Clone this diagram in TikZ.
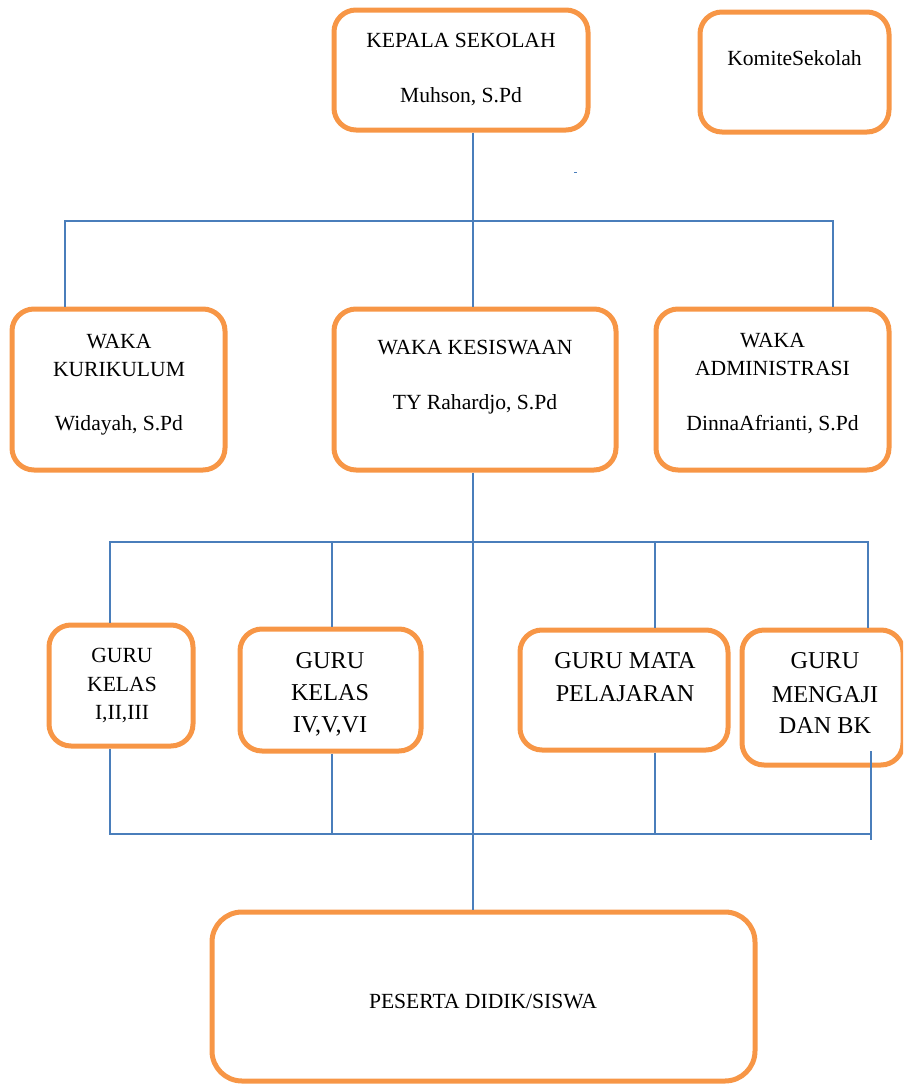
\documentclass[tikz,border=0pt]{standalone}
\usepackage{fontspec}
\setmainfont{Liberation Serif}
\definecolor{boxorange}{HTML}{F79646}
\definecolor{lineblue}{HTML}{4A7EBB}
\begin{document}
\begin{tikzpicture}[x=1pt,y=-1pt,
 box/.style={draw=boxorange, line width=5pt, rounded corners=22pt, rectangle, inner sep=0pt},
 conn/.style={draw=lineblue, line width=1.6pt},
 txt/.style={anchor=base, inner sep=0pt, font=\fontsize{21.6}{21.6}\selectfont},
 bigtxt/.style={anchor=base, inner sep=0pt, font=\fontsize{24.2}{24.2}\selectfont}]
\useasboundingbox (0,0) rectangle (903,1085);
\begin{scope}
\clip (0,0) rectangle (903,1085);
% boxes
\node[box, minimum width=254pt, minimum height=120pt] (kepala) at (461,70) {};
\node[box, minimum width=189pt, minimum height=120pt] (komite) at (794.5,72) {};
\node[box, minimum width=213pt, minimum height=161pt] (kuri) at (118.5,389.5) {};
\node[box, minimum width=282pt, minimum height=161pt] (kesis) at (475,389.5) {};
\node[box, minimum width=233pt, minimum height=161pt] (admin) at (772.5,389.5) {};
\node[box, minimum width=144pt, minimum height=121pt] (g1) at (121,685.5) {};
\node[box, minimum width=181pt, minimum height=122pt] (g2) at (330.5,690) {};
\node[box, minimum width=208pt, minimum height=120pt] (g3) at (624,690) {};
\node[box, minimum width=161pt, minimum height=135pt] (g4) at (822.5,697.5) {};
\node[box, minimum width=543pt, minimum height=169pt, rounded corners=30pt] (siswa) at (483.5,996.5) {};
\end{scope}
% texts
\node[txt] (kepT1) at (461,47) {KEPALA SEKOLAH};
\node[txt] (kepT2) at (461,102) {Muhson, S.Pd};
\node[txt] (komT) at (794.5,65) {KomiteSekolah};
\node[txt] (kurT1) at (119,348) {WAKA};
\node[txt] (kurT2) at (119,376) {KURIKULUM};
\node[txt] (kurT3) at (119,430) {Widayah, S.Pd};
\node[txt] (kesT1) at (475,354) {WAKA KESISWAAN};
\node[txt] (kesT2) at (475,409) {TY Rahardjo, S.Pd};
\node[txt] (admT1) at (772.5,347) {WAKA};
\node[txt] (admT2) at (772.5,375) {ADMINISTRASI};
\node[txt] (admT3) at (772.5,430) {DinnaAfrianti, S.Pd};
\node[txt] (g1T1) at (122,662) {GURU};
\node[txt] (g1T2) at (122,691) {KELAS};
\node[txt] (g1T3) at (122,719) {I,II,III};
\node[bigtxt] (g2T1) at (330,668) {GURU};
\node[bigtxt] (g2T2) at (330,700) {KELAS};
\node[bigtxt] (g2T3) at (330,732) {IV,V,VI};
\node[bigtxt] (g3T1) at (625,668) {GURU MATA};
\node[bigtxt] (g3T2) at (625,701) {PELAJARAN};
\node[bigtxt] (g4T1) at (825,668) {GURU};
\node[bigtxt] (g4T2) at (825,702) {MENGAJI};
\node[bigtxt] (g4T3) at (825,733) {DAN BK};
\node[txt] (sisT) at (483,1008) {PESERTA DIDIK/SISWA};
% connector coordinates
\coordinate (hL) at (65,221);
\coordinate (hC) at (473,221);
\coordinate (hR) at (833,221);
\coordinate (m1) at (110,542);
\coordinate (m2) at (332,542);
\coordinate (mc) at (473,542);
\coordinate (m3) at (655,542);
\coordinate (m4) at (868,542);
\coordinate (b1) at (110,834);
\coordinate (b2) at (332,834);
\coordinate (b3) at (655,834);
\coordinate (b4) at (871,834);
\coordinate (b4t) at (871,751);
\coordinate (b4e) at (871,840);
% connectors
\draw[conn] (kepala.south -| hC) -- (kesis.north -| hC);
\draw[conn] (kuri.north -| hL) -- (hL) -- (hR) -- (admin.north -| hR);
\draw[conn] (kesis.south -| mc) -- (siswa.north -| mc);
\draw[conn] (g1.north -| m1) -- (m1) -- (m4) -- (g4.north -| m4);
\draw[conn] (m2) -- (g2.north -| m2);
\draw[conn] (m3) -- (g3.north -| m3);
\draw[conn] (g1.south -| b1) -- (b1) -- (b4);
\draw[conn] (g2.south -| b2) -- (b2);
\draw[conn] (g3.south -| b3) -- (b3);
\draw[conn] (b4t) -- (b4e);
% stray mark
\fill[lineblue] (574,171.5) rectangle (577,173);
\end{tikzpicture}
\end{document}
